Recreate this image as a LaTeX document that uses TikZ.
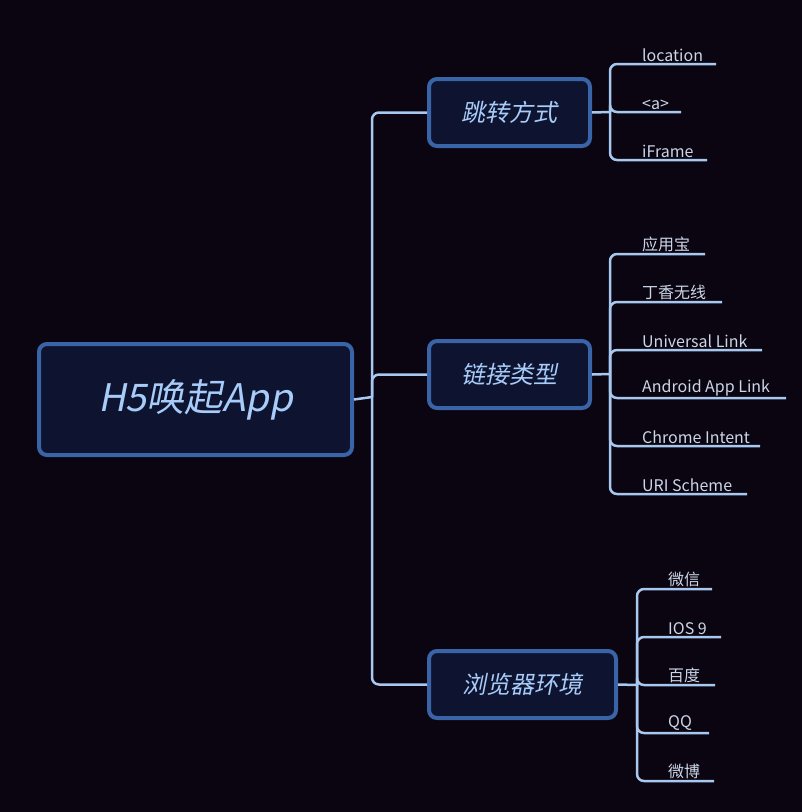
\documentclass[tikz,border=0pt]{standalone}
\usepackage{fontspec}
\setmainfont{Noto Sans}
\newfontfamily\cjk{Noto Sans CJK SC}
\newfontfamily\cjkit[FakeSlant=0.2]{Noto Sans CJK SC}
\usetikzlibrary{positioning}
\definecolor{bgdark}{HTML}{0A0510}
\definecolor{boxfill}{HTML}{0E1430}
\definecolor{boxline}{HTML}{3A64A8}
\definecolor{wire}{HTML}{A8C8F0}
\definecolor{titletext}{HTML}{A8CCFA}
\definecolor{leaftext}{HTML}{CCD6E8}

\tikzset{
	topic/.style={draw=boxline, line width=4pt, fill=boxfill, rounded corners=8pt,
		text=titletext, font=\cjkit\fontsize{24}{28}\selectfont, inner sep=0pt},
	leaf/.style={anchor=south west, text=leaftext, font=\cjk\fontsize{16}{19}\selectfont,
		inner sep=0pt, yshift=-10pt},
	wireline/.style={draw=wire, line width=2.5pt, rounded corners=7pt},
}

\begin{document}
\begin{tikzpicture}[x=1pt, y=-1pt]
	\fill[bgdark] (0,0) rectangle (802,812);
	\useasboundingbox (0,0) rectangle (802,812);

	% main topic
	\node[topic, minimum width=313pt, minimum height=111pt, font=\cjkit\fontsize{38}{44}\selectfont]
		(root) at (195.5,399.5) {H5唤起App};

	% branches
	\node[topic, minimum width=161pt, minimum height=67pt] (jump) at (509.5,112.5) {跳转方式};
	\node[topic, minimum width=161pt, minimum height=67pt] (link) at (509.5,374.5) {链接类型};
	\node[topic, minimum width=187pt, minimum height=67pt] (env) at (522.5,684.5) {浏览器环境};

	\coordinate (trunk) at (372,397);
	\draw[wireline] (root.east) -- (trunk);
	\draw[wireline] (trunk) |- (jump.west);
	\draw[wireline] (trunk) |- (env.west);
	\draw[wireline] (trunk) |- (link.west);

	% leaves of jump
	\coordinate (jumpfork) at (610,112);
	\draw[wireline] (jump.east) -- (jumpfork);
	\foreach \y/\e/\t [count=\i] in {64/716/location, 112/681/{<a>}, 160/707/iFrame} {
		\coordinate (jumpend\i) at (\e,\y);
		\node[leaf] (jumpleaf\i) at (642,\y-12) {\t};
		\draw[wireline] (jumpfork) |- (jumpend\i);
	}

	% leaves of link
	\coordinate (linkfork) at (610,374);
	\draw[wireline] (link.east) -- (linkfork);
	\foreach \y/\e/\t [count=\i] in {254/705/应用宝, 302/722/丁香无线, 350/762/Universal Link,
			398/786/Android App Link, 446/760/Chrome Intent, 494/747/URI Scheme} {
		\coordinate (linkend\i) at (\e,\y);
		\node[leaf] (linkleaf\i) at (642,\y-12) {\t};
		\draw[wireline] (linkfork) |- (linkend\i);
	}

	% leaves of env
	\coordinate (envfork) at (637,685);
	\draw[wireline] (env.east) -- (envfork);
	\foreach \y/\e/\t [count=\i] in {589/712/微信, 637/721/IOS 9, 685/715/百度, 733/709/QQ, 781/714/微博} {
		\coordinate (envend\i) at (\e,\y);
		\node[leaf] (envleaf\i) at (668,\y-12) {\t};
		\draw[wireline] (envfork) |- (envend\i);
	}
\end{tikzpicture}
\end{document}
